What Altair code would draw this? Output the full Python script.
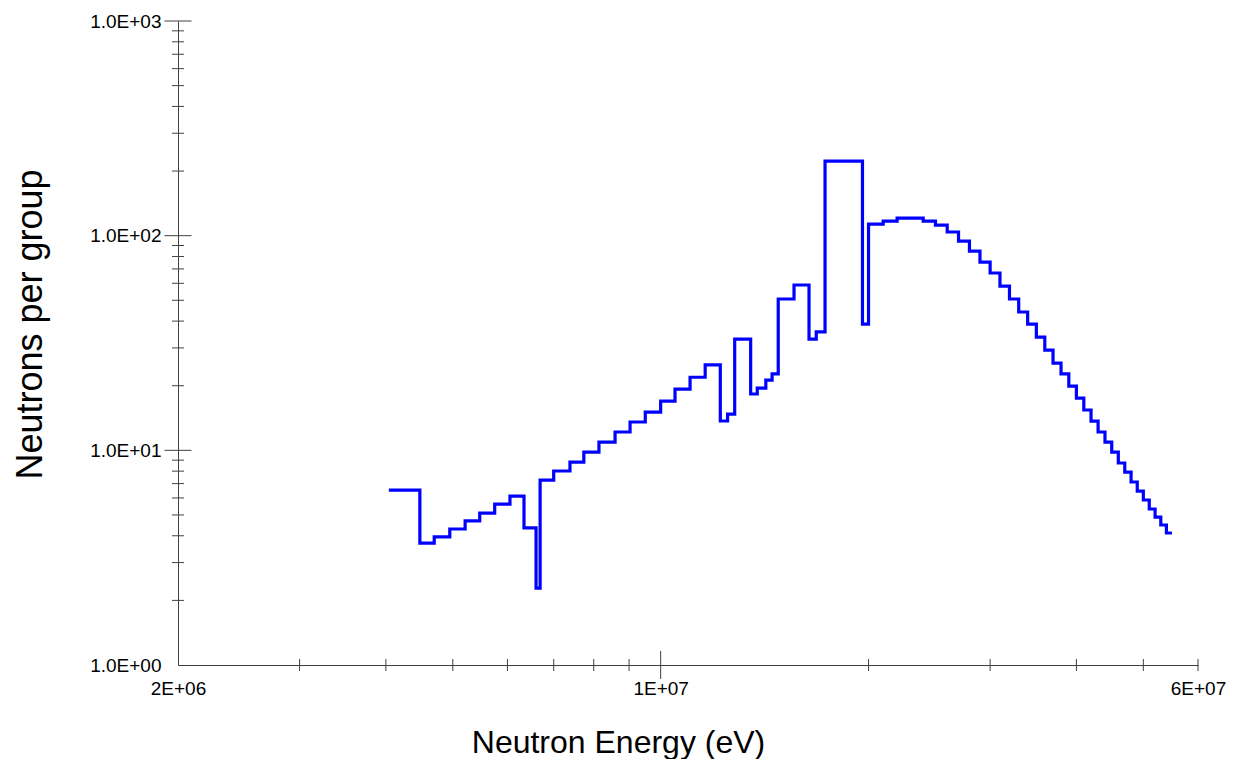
import altair as alt
import pandas as pd

# ---- data ----
# bin edges (MeV) of the step spectrum; last entry closes the final bin
edges_mev = [4.04, 4.48, 4.70, 4.95, 5.21, 5.47, 5.75, 6.05, 6.34, 6.60,
             6.69, 7.00, 7.39, 7.74, 8.14, 8.59, 9.03, 9.50, 10.0, 10.49,
             11.03, 11.6, 12.2, 12.5, 12.8, 13.5, 13.8, 14.2, 14.5, 14.8,
             15.6, 16.4, 16.8, 17.3, 19.6,
             20, 21, 22, 23, 24, 25, 26, 27, 28, 29,
             30, 31, 32, 33, 34, 35, 36, 37, 38, 39,
             40, 41, 42, 43, 44, 45, 46, 47, 48, 49,
             50, 51, 52, 53, 54, 55]
# neutrons per group in each bin
counts = [6.53, 3.70, 3.95, 4.30, 4.69, 5.10, 5.62, 6.12, 4.35, 2.28,
          7.27, 8.01, 8.82, 9.82, 10.93, 12.17, 13.55, 15.08, 16.97, 19.3,
          21.9, 25.0, 13.7, 14.76, 33.0, 18.3, 19.5, 21.25, 22.7, 50.7,
          58.9, 33.0, 35.6, 222.6, 38.7,
          113.2, 117.0, 120.8, 120.8, 117.0, 112.0, 104.0, 94.4, 84.8, 75.3,
          67.0, 58.2, 50.7, 44.1, 38.7, 33.7, 29.3, 25.5, 22.7, 19.93,
          17.52, 15.41, 13.69, 12.17, 10.93, 9.82, 8.73, 7.92, 7.12, 6.46,
          5.87, 5.33, 4.89, 4.49, 4.12]

x_label_values = [2e6, 1e7, 6e7]
x_label_texts = ["2E+06", "1E+07", "6E+07"]
y_label_values = [1, 10, 100, 1000]
y_label_texts = ["1.0E+00", "1.0E+01", "1.0E+02", "1.0E+03"]

x_minor_ticks = [3e6, 4e6, 5e6, 6e6, 7e6, 8e6, 9e6, 2e7, 3e7, 4e7, 5e7, 6e7]
x_major_ticks = [1e7]
y_minor_ticks = [2, 3, 4, 5, 6, 7, 8, 9,
                 20, 30, 40, 50, 60, 70, 80, 90,
                 200, 300, 400, 500, 600, 700, 800, 900]
y_major_ticks = [10, 100, 1000]

# ---- tables ----
step_df = pd.DataFrame({
    "E": [e * 1e6 for e in edges_mev],
    "N": counts + [counts[-1]],
})
xtick_df = pd.DataFrame({
    "E": x_minor_ticks + x_major_ticks,
    "len": [12] * len(x_minor_ticks) + [28] * len(x_major_ticks),
})
ytick_df = pd.DataFrame({
    "N": y_minor_ticks + y_major_ticks,
    "len": [12] * len(y_minor_ticks) + [27] * len(y_major_ticks),
})


def label_expr(values, texts):
    expr = "''"
    for v, t in reversed(list(zip(values, texts))):
        expr = f"abs(datum.value - {v}) < {v * 1e-6} ? '{t}' : ({expr})"
    return expr


W, H = 1020, 644
AXIS_COLOR = "#404040"
FONT = "Liberation Sans"

xscale = alt.Scale(type="log", domain=[2e6, 6e7], nice=False)
yscale = alt.Scale(type="log", domain=[1, 1000], nice=False)

x_axis = alt.Axis(
    values=x_label_values, labelExpr=label_expr(x_label_values, x_label_texts),
    ticks=False, tickSize=0, grid=False,
    domainColor=AXIS_COLOR, domainWidth=1,
    labelFont=FONT, labelFontSize=19, labelColor="black", labelPadding=14,
    labelFlush=False, labelOverlap=False,
    title="Neutron Energy (eV)", titleFont=FONT, titleFontSize=32,
    titleFontWeight="normal", titleColor="black",
    titleX=440, titleY=87, titleAlign="center", titleBaseline="alphabetic",
)
y_axis = alt.Axis(
    values=y_label_values, labelExpr=label_expr(y_label_values, y_label_texts),
    ticks=False, tickSize=0, grid=False,
    domainColor=AXIS_COLOR, domainWidth=1,
    labelFont=FONT, labelFontSize=19, labelColor="black", labelPadding=17,
    labelFlush=False, labelOverlap=False,
    title="Neutrons per group", titleFont=FONT, titleFontSize=36,
    titleFontWeight="normal", titleColor="black",
    titleX=-148, titleY=303, titleAlign="center", titleBaseline="middle",
)

line = alt.Chart(step_df).mark_line(
    interpolate="step-after", color="#0000FF", strokeWidth=3.2, clip=True
).encode(
    x=alt.X("E:Q", scale=xscale, axis=x_axis),
    y=alt.Y("N:Q", scale=yscale, axis=y_axis),
)

yticks = alt.Chart(ytick_df).mark_tick(
    orient="horizontal", color=AXIS_COLOR, thickness=1, opacity=1
).encode(
    y=alt.Y("N:Q", scale=yscale, axis=y_axis),
    x=alt.value(0),
    size=alt.Size("len:Q", scale=None, legend=None),
)

xticks = alt.Chart(xtick_df).mark_tick(
    orient="vertical", color=AXIS_COLOR, thickness=1, opacity=1
).encode(
    x=alt.X("E:Q", scale=xscale, axis=x_axis),
    y=alt.value(H),
    size=alt.Size("len:Q", scale=None, legend=None),
)

chart = alt.layer(line, yticks, xticks).properties(
    width=W, height=H,
    autosize=alt.AutoSizeParams(type="none"),
    padding={"left": 170, "top": 13, "right": 30, "bottom": 94},
    background="white",
).configure_view(stroke=None)

chart.save("out.html", embed_options={"renderer": "svg", "actions": False})
